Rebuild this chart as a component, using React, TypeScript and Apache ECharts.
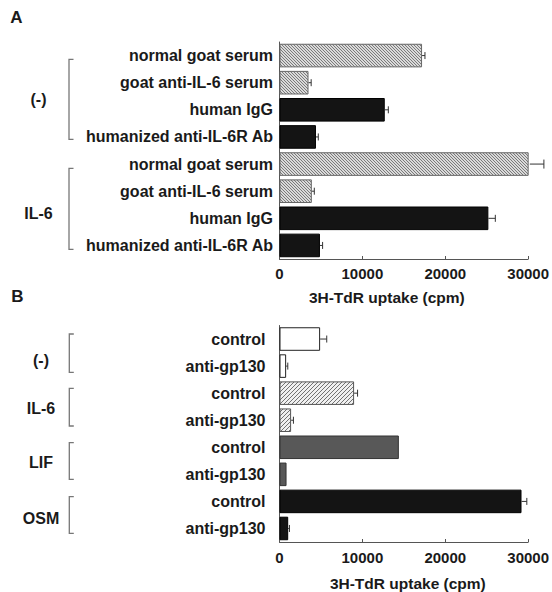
import React, { useEffect, useRef } from 'react';
import * as echarts from 'echarts';

// ---------- data ----------
const catsA = [
  'normal goat serum', 'goat anti-IL-6 serum', 'human IgG', 'humanized anti-IL-6R Ab',
  'normal goat serum', 'goat anti-IL-6 serum', 'human IgG', 'humanized anti-IL-6R Ab',
];
const valuesA = [17200, 3500, 12700, 4400, 30200, 3900, 25200, 4880];
const errorsA = [350, 320, 430, 280, 1700, 300, 840, 320];
const fillsA = ['hatchA', 'hatchA', 'black', 'black', 'hatchA', 'hatchA', 'black', 'black'];
const groupsA = ['(-)', 'IL-6'];

const catsB = [
  'control', 'anti-gp130', 'control', 'anti-gp130',
  'control', 'anti-gp130', 'control', 'anti-gp130',
];
const valuesB = [4900, 800, 9000, 1400, 14400, 850, 29200, 1050];
const errorsB = [800, 200, 420, 280, 0, 0, 640, 150];
const fillsB = ['white', 'white', 'hatchB', 'hatchB', 'grey', 'grey', 'black', 'black'];
const groupsB = ['(-)', 'IL-6', 'LIF', 'OSM'];

const xMin = 0;
const xMax = 30000;
const xInterval = 10000;
const axisTitle = '3H-TdR uptake (cpm)';

const FONT = '"Liberation Sans", Arial, Helvetica, sans-serif';
const TXT = '#1a1a1a';

function makeHatch(size: number, bg: string, fg: string, dir: 'back' | 'fwd') {
  const c = document.createElement('canvas');
  c.width = size;
  c.height = size;
  const ctx = c.getContext('2d')!;
  ctx.fillStyle = bg;
  ctx.fillRect(0, 0, size, size);
  ctx.fillStyle = fg;
  for (let i = 0; i < size; i++) {
    const x = dir === 'back' ? i : size - 1 - i;
    ctx.fillRect(x, i, 1, 1);
  }
  return { image: c, repeat: 'repeat', imageWidth: size, imageHeight: size } as any;
}

export default function App() {
  const ref = useRef<HTMLDivElement>(null);

  useEffect(() => {
    if (!ref.current) return;
    const chart = echarts.init(ref.current, undefined, { renderer: 'svg' });

    const styles: Record<string, any> = {
      hatchA: { color: makeHatch(3, '#dadada', '#7a7a7a', 'back'), borderColor: '#666', borderWidth: 1 },
      hatchB: { color: makeHatch(4, '#f0f0f0', '#727272', 'fwd'), borderColor: '#555', borderWidth: 1 },
      black: { color: '#141414', borderColor: '#000', borderWidth: 1 },
      grey: { color: '#585858', borderColor: '#333', borderWidth: 1 },
      white: { color: '#ffffff', borderColor: '#222', borderWidth: 1 },
    };

    const textStyle = { fontFamily: FONT, fontWeight: 'bold' as const, fontSize: 15, color: TXT };

    const grids = [
      { left: 279.5, right: 22.5, top: 42, height: 217 },
      { left: 279.5, right: 22.5, top: 325.5, height: 217 },
    ];

    const xAxisBase = (gridIndex: number, labelMargin: number, nameGap: number, pad: number[]) => ({
      type: 'value',
      gridIndex,
      min: xMin,
      max: xMax,
      interval: xInterval,
      splitLine: { show: false },
      axisLine: { show: true, lineStyle: { color: '#555', width: 1 } },
      axisTick: { show: true, inside: true, length: 3, lineStyle: { color: '#555' } },
      axisLabel: { ...textStyle, fontSize: 15, margin: labelMargin, formatter: (v: number) => String(v) },
      name: axisTitle,
      nameLocation: 'middle',
      nameGap,
      nameTextStyle: { ...textStyle, fontSize: 15.5, padding: pad },
    });

    const yAxisBase = (gridIndex: number, data: string[], margin: number) => ({
      type: 'category',
      gridIndex,
      data,
      inverse: true,
      axisLine: { show: true, lineStyle: { color: '#555', width: 1 } },
      axisTick: { show: false },
      axisLabel: { ...textStyle, fontSize: 16, margin, interval: 0 },
    });

    const barData = (vals: number[], fills: string[]) =>
      vals.map((v, i) => ({ value: v, itemStyle: styles[fills[i]] }));

    const errRender = (params: any, api: any) => {
      const v = api.value(0);
      const idx = api.value(1);
      const e = api.value(2);
      if (!e) return null;
      const p0 = api.coord([v, idx]);
      const p1 = api.coord([v + e, idx]);
      const h = e > 1000 ? 9 : 7;
      const st = { stroke: '#333', lineWidth: 1 };
      return {
        type: 'group',
        children: [
          { type: 'line', shape: { x1: p0[0], y1: p0[1], x2: p1[0], y2: p1[1] }, style: st },
          { type: 'line', shape: { x1: p1[0], y1: p1[1] - h / 2, x2: p1[0], y2: p1[1] + h / 2 }, style: st },
        ],
      };
    };

    const bracket = (x: number, top: number, bottom: number) => ({
      type: 'polyline',
      shape: { points: [[x + 4.5, top], [x, top], [x, bottom], [x + 4.5, bottom]] },
      style: { stroke: '#777', lineWidth: 1.3, fill: 'none' },
    });
    const label = (text: string, x: number, y: number, size = 16) => ({
      type: 'text',
      x,
      y,
      style: {
        text,
        fill: TXT,
        font: `bold ${size}px ${FONT}`,
        align: 'center',
        verticalAlign: 'middle',
      },
    });

    const bracketsA = [[59.3, 139.3], [168.3, 249.3]];
    const labelYA = [99.3, 213.3];
    const bracketsB = [[334, 372.3], [388.3, 426], [442.7, 479.3], [496.7, 533.3]];
    const labelYB = [360, 408.3, 462, 518.3];

    const graphics: any[] = [
      label('A', 16.5, 17, 17),
      label('B', 17.5, 296, 17),
      ...groupsA.map((g, i) => label(g, 38.5, labelYA[i])),
      ...bracketsA.map((b) => bracket(69, b[0], b[1])),
      ...groupsB.map((g, i) => label(g, 41, labelYB[i])),
      ...bracketsB.map((b) => bracket(69.3, b[0], b[1])),
    ];

    chart.setOption({
      animation: false,
      backgroundColor: '#ffffff',
      grid: grids,
      xAxis: [
        xAxisBase(0, 6.5, 30, [0, 34, 0, 0]),
        xAxisBase(1, 8, 33, [0, 0, 0, 8]),
      ],
      yAxis: [yAxisBase(0, catsA, 6.5), yAxisBase(1, catsB, 14)],
      series: [
        {
          type: 'bar',
          xAxisIndex: 0,
          yAxisIndex: 0,
          data: barData(valuesA, fillsA),
          barCategoryGap: '13%',
        },
        {
          type: 'bar',
          xAxisIndex: 1,
          yAxisIndex: 1,
          data: barData(valuesB, fillsB),
          barCategoryGap: '13%',
        },
        {
          type: 'custom',
          xAxisIndex: 0,
          yAxisIndex: 0,
          clip: false,
          renderItem: errRender,
          encode: { x: 0, y: 1 },
          data: valuesA.map((v, i) => [v, i, errorsA[i]]),
          z: 3,
        },
        {
          type: 'custom',
          xAxisIndex: 1,
          yAxisIndex: 1,
          clip: false,
          renderItem: errRender,
          encode: { x: 0, y: 1 },
          data: valuesB.map((v, i) => [v, i, errorsB[i]]),
          z: 3,
        },
      ],
      graphic: graphics,
    });

    return () => chart.dispose();
  }, []);

  return (
    <div
      ref={ref}
      style={{ position: 'absolute', left: 0, top: 0, width: 552, height: 592, background: '#fff' }}
    />
  );
}
